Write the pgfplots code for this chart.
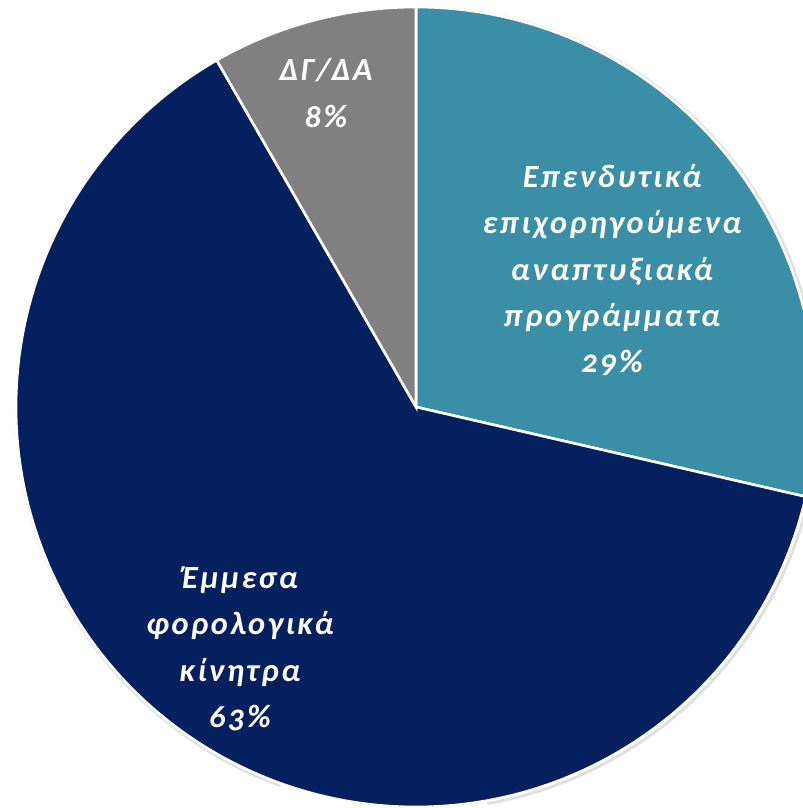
\documentclass[border=0pt]{standalone}
\usepackage{pgfplots}
\pgfplotsset{compat=1.18}
\usepackage{pgfplotstable}
\usepackage{fontspec}
\setmainfont{Carlito}[Numbers=OldStyle]
\newfontfamily\lblfont{Carlito}[Numbers=OldStyle, LetterSpace=8]

\definecolor{tealc}{RGB}{58,143,166}
\definecolor{navyc}{RGB}{4,32,94}
\definecolor{grayc}{RGB}{128,128,128}

% shares in percent, clockwise from 12 o'clock
\pgfplotstableread{
share
28.6
63.1
8.3
}\piedata

\tikzset{lbl/.style={text=white, align=center,
    font=\lblfont\bfseries\itshape\fontsize{32.5}{46.5}\selectfont}}

\begin{document}
\begin{tikzpicture}
\begin{axis}[
  x=400bp, y=400bp,
  xmin=-1.04, xmax=0.9675,
  ymin=-1.0025, ymax=1.0175,
  hide axis,
  clip=true,
]
\pgfplotstablegetelem{0}{share}\of\piedata \let\sa\pgfplotsretval
\pgfplotstablegetelem{1}{share}\of\piedata \let\sb\pgfplotsretval
\pgfplotstablegetelem{2}{share}\of\piedata \let\sc\pgfplotsretval
\pgfmathsetmacro\aA{90}
\pgfmathsetmacro\aB{90-3.6*\sa}
\pgfmathsetmacro\aC{\aB-3.6*\sb}
\pgfmathsetmacro\aD{\aC-3.6*\sc}

% soft shadow round the disc
\addplot[draw=black!12, line width=3pt, domain=-80:250, samples=180]
  ({1.003*cos(x)+0.004},{1.003*sin(x)-0.004});

\addplot[fill=tealc, draw=white, line width=2.6pt, domain=\aB:\aA, samples=80]
  ({cos(x)},{sin(x)}) -- (0,0) -- cycle;
\addplot[fill=navyc, draw=white, line width=2.6pt, domain=\aC:\aB, samples=160]
  ({cos(x)},{sin(x)}) -- (0,0) -- cycle;
\addplot[fill=grayc, draw=white, line width=2.6pt, domain=\aD:\aC, samples=30]
  ({cos(x)},{sin(x)}) -- (0,0) -- cycle;

\node[lbl] at (axis cs:0.49,0.342) {Επενδυτικά\\επιχορηγούμενα\\αναπτυξιακά\\προγράμματα\\29\%};
\node[lbl] at (axis cs:-0.44,-0.605) {Έμμεσα\\φορολογικά\\κίνητρα\\63\%};
\node[lbl] at (axis cs:-0.225,0.785) {ΔΓ/ΔΑ\\8\%};
\end{axis}
\pgfresetboundingbox
\path (current axis.south west) rectangle (current axis.north east);
\end{tikzpicture}
\end{document}
